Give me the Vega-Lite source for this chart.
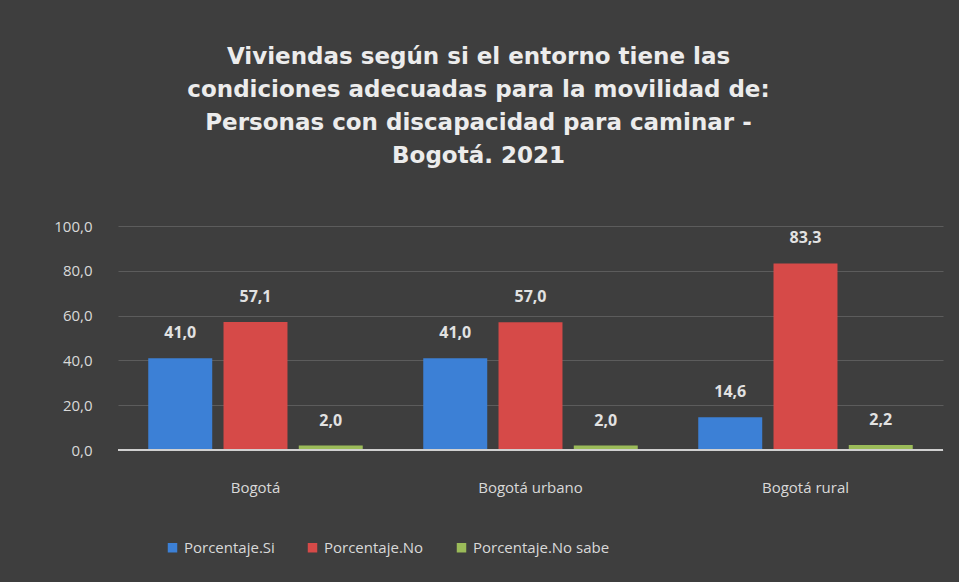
{
  "$schema": "https://vega.github.io/schema/vega-lite/v6.json",
  "autosize": "none",
  "width": 825,
  "height": 224,
  "padding": {"left": 118, "top": 226, "right": 16, "bottom": 132},
  "background": "#3e3e3e",
  "title": {
    "text": ["Viviendas según si el entorno tiene las", "condiciones adecuadas para la movilidad de:", "Personas con discapacidad para caminar -", "Bogotá. 2021"],
    "anchor": "middle",
    "dx": -52,
    "offset": 51,
    "font": "DejaVu Sans",
    "fontSize": 23,
    "fontWeight": "bold",
    "lineHeight": 33,
    "color": "#ececec"
  },
  "data": {
    "values": [
      {"zona": "Bogotá", "serie": "Porcentaje.Si", "valor": 41.0},
      {"zona": "Bogotá", "serie": "Porcentaje.No", "valor": 57.1},
      {"zona": "Bogotá", "serie": "Porcentaje.No sabe", "valor": 2.0},
      {"zona": "Bogotá urbano", "serie": "Porcentaje.Si", "valor": 41.0},
      {"zona": "Bogotá urbano", "serie": "Porcentaje.No", "valor": 57.0},
      {"zona": "Bogotá urbano", "serie": "Porcentaje.No sabe", "valor": 2.0},
      {"zona": "Bogotá rural", "serie": "Porcentaje.Si", "valor": 14.6},
      {"zona": "Bogotá rural", "serie": "Porcentaje.No", "valor": 83.3},
      {"zona": "Bogotá rural", "serie": "Porcentaje.No sabe", "valor": 2.2}
    ]
  },
  "encoding": {
    "x": {
      "field": "zona", "type": "nominal", "sort": null,
      "scale": {"paddingInner": 0.22, "paddingOuter": 0.11},
      "axis": {"title": null, "labelAngle": 0, "labelPadding": 30, "ticks": false, "domain": false, "labelFontSize": 15, "labelColor": "#d9d9d9", "labelFont": "Open Sans"}
    },
    "xOffset": {"field": "serie", "type": "nominal", "sort": ["Porcentaje.Si", "Porcentaje.No", "Porcentaje.No sabe"], "scale": {"paddingInner": 0.15}},
    "y": {
      "field": "valor", "type": "quantitative",
      "scale": {"domain": [0, 100]},
      "axis": {"title": null, "values": [0, 20, 40, 60, 80, 100], "format": ".1f", "ticks": false, "domain": false, "labelPadding": 26, "labelFontSize": 15, "labelColor": "#d9d9d9", "labelFont": "Open Sans", "gridColor": "#5c5c5c", "gridWidth": 1}
    }
  },
  "layer": [
    {
      "mark": {"type": "bar"},
      "encoding": {
        "color": {
          "field": "serie", "type": "nominal",
          "sort": ["Porcentaje.Si", "Porcentaje.No", "Porcentaje.No sabe"],
          "scale": {"domain": ["Porcentaje.Si", "Porcentaje.No", "Porcentaje.No sabe"], "range": ["#3c80d6", "#d64a48", "#9bbb59"]},
          "legend": {
            "title": null, "orient": "none", "direction": "horizontal",
            "legendX": 47, "legendY": 314,
            "symbolType": "square", "symbolSize": 90, "symbolStrokeWidth": 0,
            "labelFontSize": 15, "labelColor": "#d9d9d9", "labelFont": "Open Sans",
            "columnPadding": 30, "labelOffset": 4
          }
        }
      }
    },
    {
      "mark": {"type": "text", "baseline": "bottom", "dy": -17, "fontSize": 16, "fontWeight": "bold", "font": "Open Sans", "color": "#e2e2e2"},
      "encoding": {
        "text": {"field": "valor", "type": "quantitative", "format": ".1f"}
      }
    },
    {
      "mark": {"type": "rule", "color": "#d0d0d0", "strokeWidth": 1.5},
      "encoding": {"y": {"datum": 0}, "x": null, "xOffset": null}
    }
  ],
  "config": {
    "locale": {"number": {"decimal": ",", "thousands": ".", "grouping": [3], "currency": ["$", ""]}},
    "view": {"stroke": null}
  }
}
